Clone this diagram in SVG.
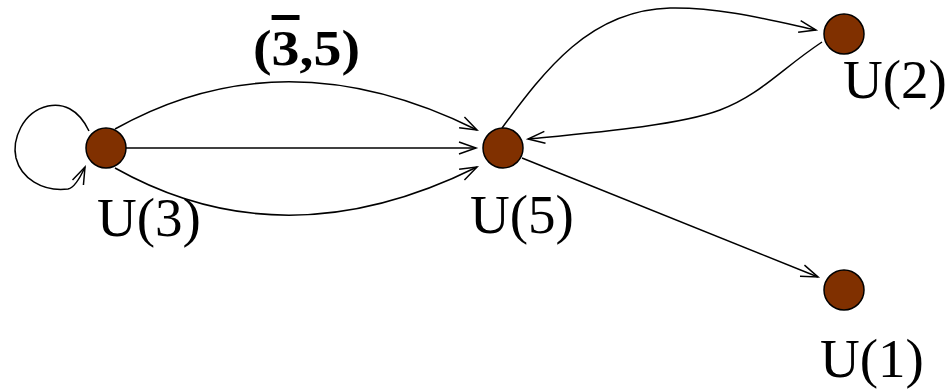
<svg xmlns="http://www.w3.org/2000/svg" width="952" height="391" viewBox="0 0 952 391">
<defs>
<style>
.edge{fill:none;stroke:#000;stroke-width:1.5}
.node{fill:#803000;stroke:#000;stroke-width:1.5}
.lbl{font-family:"Liberation Serif","Times New Roman",serif;font-size:55px;fill:#000}
.bold{font-family:"Liberation Serif","Times New Roman",serif;font-size:50px;font-weight:bold;fill:#000}
</style>
<marker id="arr" markerUnits="userSpaceOnUse" markerWidth="40" markerHeight="40" refX="0" refY="0" orient="auto" overflow="visible">
<path d="M-17,-6 L0,0 L-17,6" fill="none" stroke="#000" stroke-width="1.5"/>
</marker>
</defs>
<rect width="952" height="391" fill="#fff"/>
<g id="connectors">
<path class="edge" d="M89,131 C78,108 62,103 48,106 C22,112 12,140 16,158 C21,178 42,192 68,189 C74,188 80,178 85,167" marker-end="url(#arr)"/>
<path class="edge" d="M115,129 C220,70 340,62 477,130" marker-end="url(#arr)"/>
<path class="edge" d="M126,148 L476,148" marker-end="url(#arr)"/>
<path class="edge" d="M115,168 C220,227 340,235 477,167" marker-end="url(#arr)"/>
<path class="edge" d="M502,128 C545,70 590,10 670,8 C720,7 770,20 816,30" marker-end="url(#arr)"/>
<path class="edge" d="M822,42 C780,70 760,95 720,110 C680,125 600,132 528,139" marker-end="url(#arr)"/>
<path class="edge" d="M522,158 L818,277" marker-end="url(#arr)"/>
</g>
<text class="bold" x="253" y="65" textLength="107" lengthAdjust="spacingAndGlyphs">(<tspan text-decoration="overline">3</tspan>,5)</text>
<g id="U3"><circle class="node" cx="106" cy="148" r="20"/><text class="lbl" x="97" y="236">U(3)</text></g>
<g id="U5"><circle class="node" cx="503" cy="148" r="20"/><text class="lbl" x="470" y="233">U(5)</text></g>
<g id="U2"><circle class="node" cx="844" cy="34" r="20"/><text class="lbl" x="843" y="98">U(2)</text></g>
<g id="U1"><circle class="node" cx="844" cy="290" r="20"/><text class="lbl" x="820" y="377">U(1)</text></g>
</svg>
